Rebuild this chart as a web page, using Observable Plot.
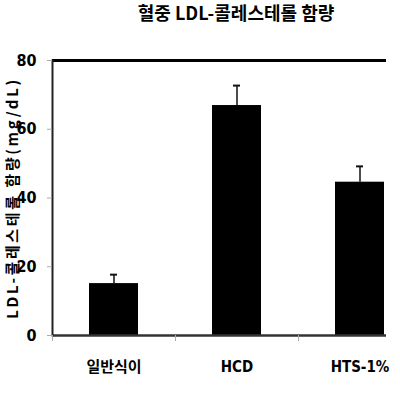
<!DOCTYPE html>
<html><head><meta charset="utf-8">
<script src="https://cdn.jsdelivr.net/npm/d3@7"></script>
<script src="https://cdn.jsdelivr.net/npm/@observablehq/plot@0.6"></script>
<style>
body{margin:0;background:#fff;}
#wrap{width:400px;height:394px;overflow:hidden;position:relative;}
#title{height:40px;box-sizing:border-box;padding-left:72px;text-align:center;font-family:"Noto Sans CJK KR",sans-serif;font-weight:bold;font-size:18px;line-height:24px;color:#000;}
svg{display:block;}
</style></head><body><div id="wrap"><div id="title"></div><div id="chart"></div></div><script>
const title = "혈중 LDL-콜레스테롤 함량";
const yLabel = "LDL-콜레스테롤 함량(mg/dL)";
const categories = ["일반식이", "HCD", "HTS-1%"];
const values = [15.1, 66.9, 44.6];
const errors = [2.6, 5.8, 4.6];
const yTicks = [0, 20, 40, 60, 80];

document.getElementById("title").textContent = title;
const data = categories.map((c, i) => ({cat: c, value: values[i], top: values[i] + errors[i]}));
const font = '"Liberation Sans Narrow","DejaVu Sans Condensed","Noto Sans CJK KR",sans-serif';

const chart = Plot.plot({
  width: 400, height: 354,
  marginTop: 20, marginLeft: 52, marginRight: 14, marginBottom: 59,
  style: {fontFamily: font, background: "#fff", color: "#000"},
  x: {domain: categories, range: [52, 421], paddingInner: 0.6, paddingOuter: 0.3},
  y: {domain: [0, 80]},
  marks: [
    Plot.barY(data, {x: "cat", y: "value", fill: "#000"}),
    Plot.ruleX(data, {x: "cat", y1: "value", y2: "top", stroke: "#111", strokeWidth: 1.5}),
    Plot.tickY(data, {x: "cat", y: "top", insetLeft: 21, insetRight: 21, stroke: "#111", strokeWidth: 2}),
    Plot.ruleY([80], {stroke: "#000", strokeWidth: 3}),
    Plot.ruleY([0], {stroke: "#333", strokeWidth: 2.5}),
    Plot.frame({anchor: "left", stroke: "#222", strokeWidth: 2}),
    Plot.axisY({ticks: yTicks, tickSize: 5, tickPadding: 11, stroke: "#aaa", fontSize: 16, fontWeight: "bold"}),
    Plot.axisY({ticks: [], tickSize: 0, label: yLabel, labelAnchor: "center", labelArrow: "none", labelOffset: 45,
      fontSize: 15, fontWeight: "bold", fontFamily: '"Noto Sans CJK KR",sans-serif'}),
    Plot.axisX({tickSize: 6, tickFormat: () => "", dx: -61.5, stroke: "#aaa", label: null}),
    Plot.axisX({tickSize: 0, tickPadding: 26, fontSize: 15, fontWeight: "bold", label: null})
  ]
});
d3.select(chart).selectAll("text").filter(function() { return this.textContent === yLabel; })
  .style("letter-spacing", "2.6px");
document.getElementById("chart").appendChild(chart);
</script></body></html>
